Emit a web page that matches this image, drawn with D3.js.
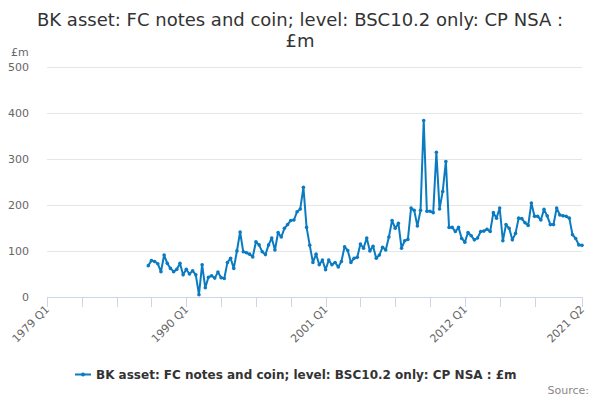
<!DOCTYPE html>
<html>
<head>
<meta charset="utf-8">
<script src="https://cdn.jsdelivr.net/npm/d3@7"></script>
<style>
  body { margin: 0; background: #fff; }
  svg { font-family: "DejaVu Sans", sans-serif; }
</style>
</head>
<body>
<svg id="chart" width="600" height="400"></svg>
<script>
// first quarter with data is 1987 Q1 (index 32 counting from 1979 Q1)
const startYear = 1979;
const firstIndex = 32;
const lastIndex = 169;

const values = [
  68, 79, 77, 72, 55, 91, 73, 62, 55, 60, 73, 48, 60, 50, 57, 48,
  5, 70, 20, 43, 46, 41, 54, 42, 40, 75, 84, 62, 100, 141,
  98, 96, 93, 87, 120, 113, 98, 92, 113, 128, 102, 140, 130, 149, 157, 166, 167, 185, 191,
  238, 151, 112, 75, 93, 70, 80, 59, 80, 70, 75, 65, 77, 109, 101, 75, 84, 86,
  115, 106, 128, 100, 110, 84, 91, 108, 102, 130, 166, 149, 160, 106, 122, 125,
  193, 188, 154, 188, 383, 186, 186, 183, 314, 191, 229, 294,
  151, 151, 142, 151, 127, 119, 140, 133, 124, 128, 142, 143, 147, 142,
  183, 171, 193, 122, 157, 149, 124, 138, 171, 170, 161, 155, 204, 175, 175, 167,
  190, 176, 157, 157, 193, 178, 176, 175, 171, 135, 127, 113, 112
];

const yTicks = [0, 100, 200, 300, 400, 500];
const xTickIdx = [0, 11, 22, 33, 44, 55, 66, 77, 88, 99, 110, 121, 132, 143, 154, 169];
const xLabelIdx = [0, 44, 88, 132, 169];

const seriesName = 'BK asset: FC notes and coin; level: BSC10.2 only: CP NSA : £m';
const titleLines = ['BK asset: FC notes and coin; level: BSC10.2 only: CP NSA :', '£m'];

const quarterName = i => (startYear + Math.floor(i / 4)) + ' Q' + (i % 4 + 1);

const data = values.map((v, k) => ({ i: firstIndex + k, v: v }));

const svg = d3.select('#chart');

const x = d3.scaleLinear().domain([0, lastIndex]).range([47, 582]);
const y = d3.scaleLinear().domain([0, 500]).range([297, 66.5]);

// title
svg.append('g')
  .selectAll('text')
  .data(titleLines)
  .enter()
  .append('text')
  .attr('x', 300)
  .attr('y', (d, k) => 26 + k * 21)
  .attr('text-anchor', 'middle')
  .attr('font-size', 18)
  .attr('fill', '#333')
  .text(d => d);

// grid + y labels
const yg = svg.append('g');
yg.selectAll('line')
  .data(yTicks.filter(d => d > 0))
  .enter()
  .append('line')
  .attr('x1', 47).attr('x2', 582)
  .attr('y1', d => Math.round(y(d)) + 0.5)
  .attr('y2', d => Math.round(y(d)) + 0.5)
  .attr('stroke', '#e6e6e6');
yg.selectAll('text')
  .data(yTicks)
  .enter()
  .append('text')
  .attr('x', 29)
  .attr('y', d => y(d) + 4)
  .attr('text-anchor', 'end')
  .attr('font-size', 11)
  .attr('fill', '#666')
  .text(d => d);

svg.append('text')
  .attr('x', 11).attr('y', 56)
  .attr('font-size', 11)
  .attr('fill', '#666')
  .text('£m');

// x axis
const xg = svg.append('g');
xg.append('line')
  .attr('x1', 47).attr('x2', 582)
  .attr('y1', 297.5).attr('y2', 297.5)
  .attr('stroke', '#ccd6eb');
xg.selectAll('line.tick')
  .data(xTickIdx)
  .enter()
  .append('line')
  .classed('tick', true)
  .attr('x1', d => Math.round(x(d)) + 0.5)
  .attr('x2', d => Math.round(x(d)) + 0.5)
  .attr('y1', 297).attr('y2', 307)
  .attr('stroke', '#ccd6eb');
xg.selectAll('text')
  .data(xLabelIdx)
  .enter()
  .append('text')
  .attr('transform', d => 'translate(' + (x(d) + 3) + ',310) rotate(-45)')
  .attr('text-anchor', 'end')
  .attr('font-size', 11)
  .attr('fill', '#666')
  .text(d => quarterName(d));

// series
const line = d3.line().x(d => x(d.i)).y(d => y(d.v));
svg.append('path')
  .datum(data)
  .attr('d', line)
  .attr('fill', 'none')
  .attr('stroke', '#0b7bc1')
  .attr('stroke-width', 2)
  .attr('stroke-linejoin', 'round');
svg.append('g')
  .selectAll('circle')
  .data(data)
  .enter()
  .append('circle')
  .attr('cx', d => x(d.i))
  .attr('cy', d => y(d.v))
  .attr('r', 1.8)
  .attr('fill', '#0b7bc1');

// legend
const lg = svg.append('g');
lg.append('line')
  .attr('x1', 75).attr('x2', 91)
  .attr('y1', 374.5).attr('y2', 374.5)
  .attr('stroke', '#0b7bc1').attr('stroke-width', 2);
lg.append('circle')
  .attr('cx', 83).attr('cy', 374.5).attr('r', 2)
  .attr('fill', '#0b7bc1');
lg.append('text')
  .attr('x', 96).attr('y', 379)
  .attr('font-size', 12)
  .attr('font-weight', 'bold')
  .attr('fill', '#333')
  .text(seriesName);

svg.append('text')
  .attr('x', 589).attr('y', 394)
  .attr('text-anchor', 'end')
  .attr('font-size', 11)
  .attr('fill', '#888')
  .text('Source:');
</script>
</body>
</html>
